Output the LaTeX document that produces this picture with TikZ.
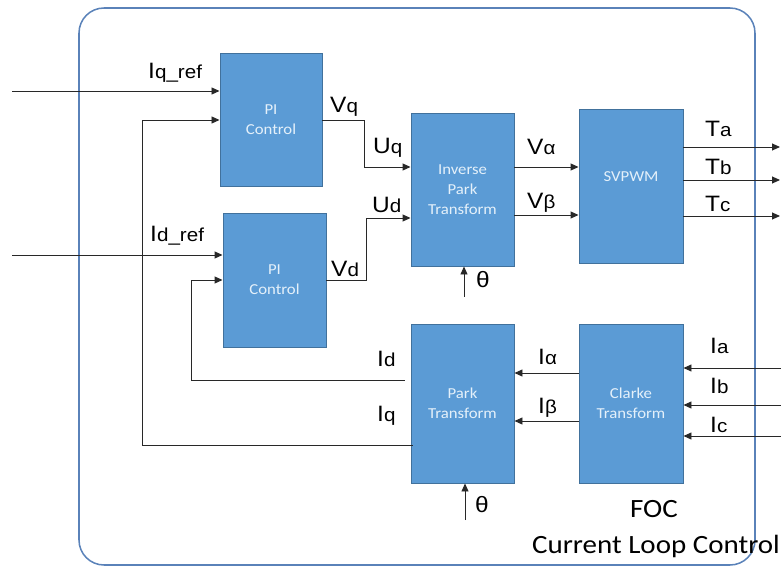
\documentclass[tikz,border=0pt]{standalone}
\usepackage{fontspec}
\setmainfont{Carlito}[FakeStretch=1.1]
\newfontfamily\lab{Liberation Sans}[FakeStretch=1.1]
\usetikzlibrary{arrows.meta,calc}
\definecolor{blockfill}{RGB}{91,155,213}
\definecolor{blockline}{RGB}{65,113,156}
\definecolor{blocktext}{RGB}{228,240,250}
\definecolor{framecol}{RGB}{90,130,185}
\definecolor{wire}{RGB}{40,40,40}
\newcommand\sg[2]{{\fontsize{19}{19}\selectfont #1}{\fontsize{16}{16}\selectfont #2}}
\begin{document}
\begin{tikzpicture}[x=0.03cm,y=-0.03cm,
  block/.style={draw=blockline, line width=0.8pt, fill=blockfill, text=blocktext,
    inner sep=0pt, align=center, font=\fontsize{13}{17}\selectfont},
  arr/.style={draw=wire, line width=0.8pt, -{Triangle[length=2.4mm,width=2.1mm]}},
  lbl/.style={inner sep=0pt, anchor=base west, font=\lab},
  captext/.style={inner sep=0pt, anchor=base, font=\fontsize{22.5}{26}\selectfont}]
\useasboundingbox (0,0) rectangle (781,567);
\draw[framecol, line width=1.3pt, rounded corners=0.75cm] (79,8) rectangle (755,565);

% blocks
\node[block, minimum width=3.06cm, minimum height=3.99cm] (pi1) at (271,119.5) {PI\\Control};
\node[block, minimum width=3.09cm, minimum height=4.02cm] (pi2) at (274.5,280) {PI\\Control};
\node[block, minimum width=3.09cm, minimum height=4.59cm] (ipark) at (462.5,189.5) {Inverse\\Park\\Transform};
\node[block, minimum width=3.12cm, minimum height=4.62cm] (svpwm) at (631,186) {};
\node[block, draw=none, fill=none] (svtext) at (631,177) {SVPWM};
\node[block, minimum width=3.09cm, minimum height=4.77cm] (park) at (462.5,403.5) {Park\\Transform};
\node[block, minimum width=3.12cm, minimum height=4.77cm] (clarke) at (631,403.5) {Clarke\\Transform};

% coordinates
\coordinate (iqin) at (12,91);
\coordinate (idin) at (12,255);
\coordinate (yIqfb) at (0,120);
\coordinate (yIdfb) at (0,280);
\coordinate (yParkq) at (0,445);
\coordinate (yParkd) at (0,380);
\coordinate (xIq) at (142,0);
\coordinate (xId) at (191,0);
\coordinate (yUq) at (0,167);
\coordinate (yUd) at (0,218);
\coordinate (xVq) at (364,0);
\coordinate (xVd) at (366,0);
\coordinate (yValpha) at (0,167);
\coordinate (yVbeta) at (0,215);
\coordinate (ta) at (780,147);
\coordinate (tb) at (780,180);
\coordinate (tc) at (780,216);
\coordinate (th1) at (464,297);
\coordinate (th2) at (465,520);
\coordinate (yIalpha) at (0,373);
\coordinate (yIbeta) at (0,421);
\coordinate (ia) at (781,368);
\coordinate (ib) at (781,405);
\coordinate (ic) at (781,436);

% inputs
\draw[arr] (iqin) -- (pi1.west |- iqin);
\draw[arr] (idin) -- (pi2.west |- idin);
% feedback
\draw[arr] ([xshift=2]park.west |- yParkq) -- (xIq |- yParkq) -- (xIq |- yIqfb) -- (pi1.west |- yIqfb);
\draw[arr] ([xshift=-5]park.west |- yParkd) -- (xId |- yParkd) -- (xId |- yIdfb) -- (pi2.west |- yIdfb);
% PI outputs
\draw[arr] (pi1.east |- yIqfb) -- (xVq |- yIqfb) -- (xVq |- yUq) -- (ipark.west |- yUq);
\draw[arr] (pi2.east |- yIdfb) -- (xVd |- yIdfb) -- (xVd |- yUd) -- (ipark.west |- yUd);
% inverse park to svpwm
\draw[arr] (ipark.east |- yValpha) -- (svpwm.west |- yValpha);
\draw[arr] (ipark.east |- yVbeta) -- (svpwm.west |- yVbeta);
% svpwm outputs
\draw[arr] (svpwm.east |- ta) -- (ta);
\draw[arr] (svpwm.east |- tb) -- (tb);
\draw[arr] (svpwm.east |- tc) -- (tc);
% theta
\draw[arr] (th1) -- (th1 |- ipark.south);
\draw[arr] (th2) -- (th2 |- park.south);
% clarke to park
\draw[arr] (clarke.west |- yIalpha) -- (park.east |- yIalpha);
\draw[arr] (clarke.west |- yIbeta) -- (park.east |- yIbeta);
% phase currents
\draw[arr] (ia) -- (clarke.east |- ia);
\draw[arr] (ib) -- (clarke.east |- ib);
\draw[arr] (ic) -- (clarke.east |- ic);

% labels
\node[lbl] (lIqref) at (148,79) {\sg{I}{q\_ref}};
\node[lbl] (lIdref) at (150,242) {\sg{I}{d\_ref}};
\node[lbl] (lVq) at (330,113) {\sg{V}{q}};
\node[lbl] (lUq) at (373,154) {\sg{U}{q}};
\node[lbl] (lUd) at (372,213) {\sg{U}{d}};
\node[lbl] (lVd) at (331,277) {\sg{V}{d}};
\node[lbl] (lVa) at (527,155) {\sg{V}{α}};
\node[lbl] (lVb) at (527,209) {\sg{V}{β}};
\node[lbl] (lTa) at (705,137) {\sg{T}{a}};
\node[lbl] (lTb) at (705,175) {\sg{T}{b}};
\node[lbl] (lTc) at (705,212) {\sg{T}{c}};
\node[lbl] (lth1) at (476,288) {\fontsize{19}{19}\selectfont θ};
\node[lbl] (lId) at (377,366) {\sg{I}{d}};
\node[lbl] (lIq) at (377,421) {\sg{I}{q}};
\node[lbl] (lth2) at (475,512) {\fontsize{19}{19}\selectfont θ};
\node[lbl] (lIa) at (538,364) {\sg{I}{α}};
\node[lbl] (lIb) at (538,413) {\sg{I}{β}};
\node[lbl] (lIpa) at (710,353) {\sg{I}{a}};
\node[lbl] (lIpb) at (710,393) {\sg{I}{b}};
\node[lbl] (lIpc) at (710,432) {\sg{I}{c}};
\node[captext] (foc) at (654,517) {FOC};
\node[captext] (clc) at (656,553) {Current Loop Control};
\end{tikzpicture}
\end{document}
